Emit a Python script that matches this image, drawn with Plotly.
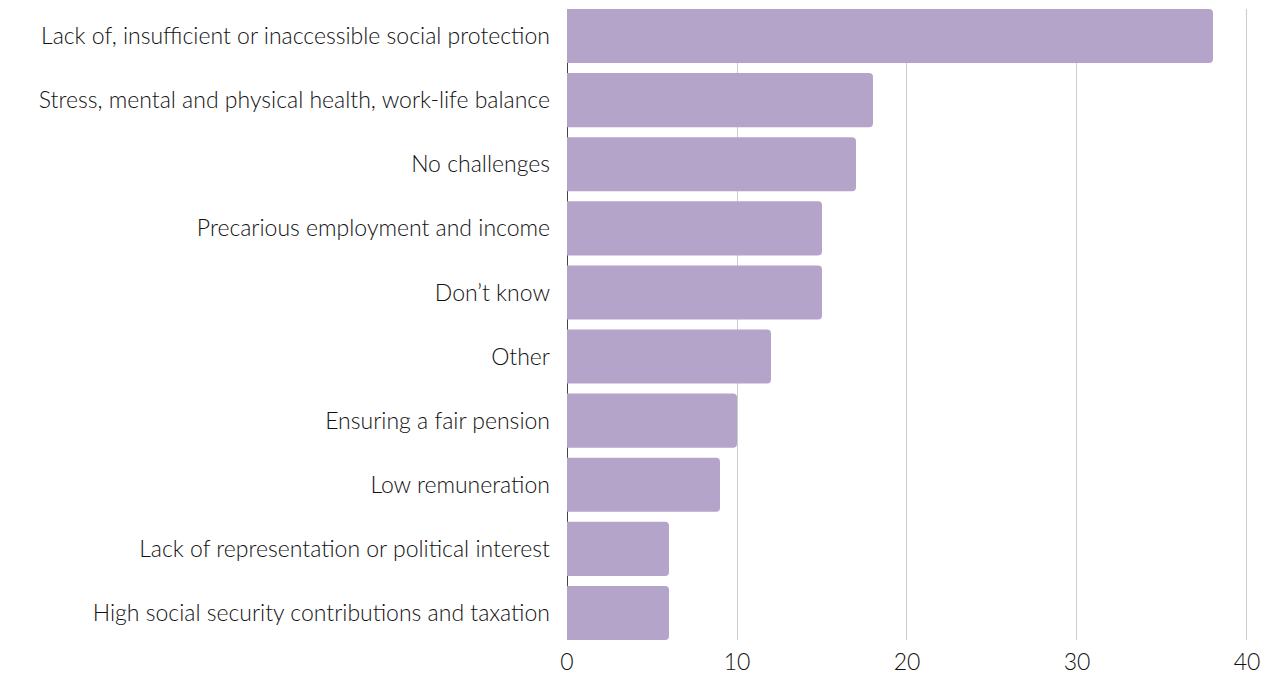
import plotly.graph_objects as go

# Survey responses: main challenges, counts per answer
categories = [
    "Lack of, insufficient or inaccessible social protection",
    "Stress, mental and physical health, work-life balance",
    "No challenges",
    "Precarious employment and income",
    "Don’t know",
    "Other",
    "Ensuring a fair pension",
    "Low remuneration",
    "Lack of representation or political interest",
    "High social security contributions and taxation",
]
counts = [38, 18, 17, 15, 15, 12, 10, 9, 6, 6]
x_ticks = [0, 10, 20, 30, 40]

bar_color = "#b5a4c9"
gap = 10 / 64  # fraction of each band left empty between bars
label_font = dict(family="Lato", size=23, weight=300, color="#111111")

fig = go.Figure(
    go.Bar(
        x=counts,
        y=categories,
        orientation="h",
        marker=dict(color=bar_color, line=dict(width=0)),
        hoverinfo="x+y",
    )
)

fig.update_layout(
    width=1270,
    height=675,
    margin=dict(l=567, r=22, t=9, b=35),
    paper_bgcolor="white",
    plot_bgcolor="white",
    bargap=gap,
    barcornerradius=4,
    showlegend=False,
    font=label_font,
)

# value axis: light vertical grid, dark baseline at zero drawn beneath the bars
fig.update_xaxes(
    range=[0, 40.06],
    tickvals=x_ticks,
    showgrid=True,
    gridcolor="#cccccc",
    gridwidth=1,
    zeroline=True,
    zerolinecolor="#444444",
    zerolinewidth=1,
    showline=False,
    ticks="",
    automargin=False,
    ticklabelstandoff=6,
    tickfont=label_font,
)

fig.update_yaxes(
    categoryorder="array",
    categoryarray=categories[::-1],
    range=[-0.5 + gap / 2, len(categories) - 0.5 - gap / 2],
    showgrid=False,
    zeroline=False,
    showline=False,
    ticks="",
    automargin=False,
    ticklabelstandoff=16,
    tickfont=label_font,
)

fig.write_html("out.html")
